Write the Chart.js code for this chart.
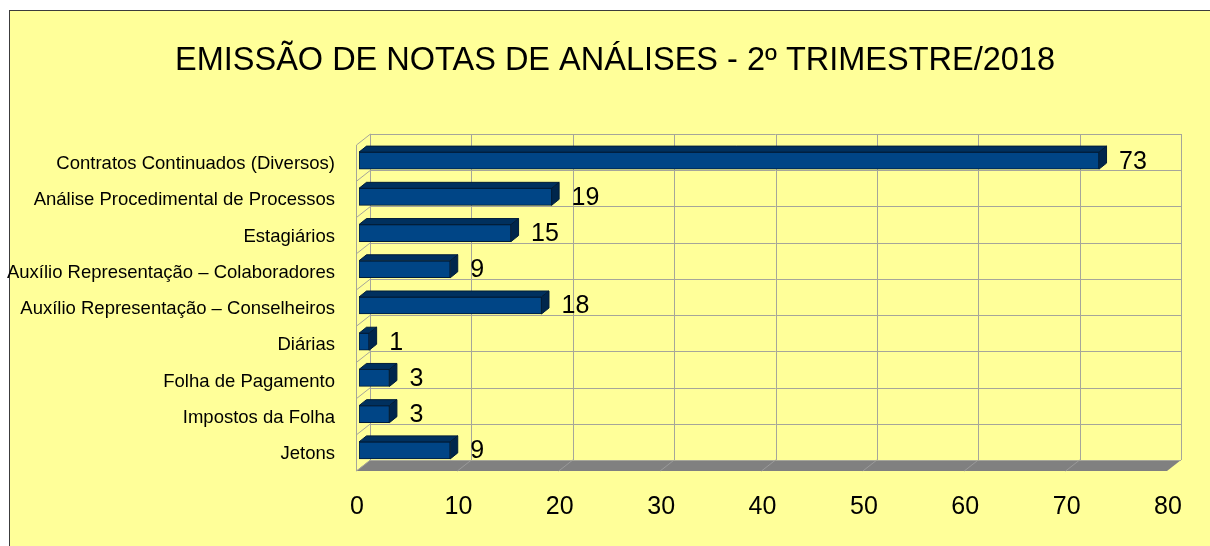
<!DOCTYPE html>
<html lang="pt-BR">
<head>
<meta charset="utf-8">
<title>Emissão de Notas de Análises - 2º Trimestre/2018</title>
<script src="https://cdn.jsdelivr.net/npm/chart.js@4.4.1/dist/chart.umd.min.js"></script>
<style>
  html, body { margin: 0; padding: 0; background: #fff; }
  #wrap { width: 1210px; height: 546px; }
</style>
</head>
<body>
<div id="wrap"><canvas id="notasChart" width="1210" height="546"></canvas></div>
<script>
// dados
const categorias = [
  "Contratos Continuados (Diversos)",
  "Análise Procedimental de Processos",
  "Estagiários",
  "Auxílio Representação – Colaboradores",
  "Auxílio Representação – Conselheiros",
  "Diárias",
  "Folha de Pagamento",
  "Impostos da Folha",
  "Jetons",
];
const notas = [73, 19, 15, 9, 18, 1, 3, 3, 9];
const xTicks = [0, 10, 20, 30, 40, 50, 60, 70, 80];
const titulo = "EMISSÃO DE NOTAS DE ANÁLISES - 2º TRIMESTRE/2018";

const FONT = "'Liberation Sans', Arial, sans-serif";
const COLORS = {
  panel: "#ffff99",
  panelBorder: "#3c3c3c",
  grid: "#a6a69a",
  floor: "#808080",
  floorLine: "#9a9a9a",
  barFront: "#004586",
  barTop: "#00305e",
  barSide: "#00264c",
  barEdge: "#001c38",
  text: "#000000",
};

// deslocamentos da perspectiva (plano das barras -> parede frontal / fundo)
const FRONT = { dx: -3, dy: 2.5 };
const BACK = { dx: 11, dy: -8.5 };
const BAR_DEPTH = { dx: 7.5, dy: -6 };

const crisp = (v) => Math.round(v) + 0.5;

const panelPlugin = {
  id: "panel",
  beforeDraw(chart) {
    const { ctx, width, height } = chart;
    ctx.save();
    ctx.fillStyle = "#fff";
    ctx.fillRect(0, 0, width, height);
    ctx.fillStyle = COLORS.panel;
    ctx.fillRect(9.5, 10.5, width + 10, height + 10);
    ctx.strokeStyle = COLORS.panelBorder;
    ctx.lineWidth = 1;
    ctx.strokeRect(9.5, 10.5, width + 10, height + 10);

    // título
    ctx.fillStyle = COLORS.text;
    ctx.font = "32.5px " + FONT;
    ctx.textAlign = "center";
    ctx.textBaseline = "middle";
    ctx.fillText(titulo, 615, 61);
    ctx.restore();
  },
};

const wallsPlugin = {
  id: "walls",
  beforeDatasetsDraw(chart) {
    const { ctx, chartArea: a, scales } = chart;
    const x = scales.x;
    const lo = x.getPixelForValue(xTicks[0]);
    const hi = x.getPixelForValue(xTicks[xTicks.length - 1]);
    const band = (a.bottom - a.top) / categorias.length;

    ctx.save();
    // piso
    ctx.fillStyle = COLORS.floor;
    ctx.beginPath();
    ctx.moveTo(lo + FRONT.dx, a.bottom + FRONT.dy);
    ctx.lineTo(hi + FRONT.dx, a.bottom + FRONT.dy);
    ctx.lineTo(hi + BACK.dx, a.bottom + BACK.dy);
    ctx.lineTo(lo + BACK.dx, a.bottom + BACK.dy);
    ctx.closePath();
    ctx.fill();

    ctx.lineWidth = 1;
    ctx.strokeStyle = COLORS.floorLine;
    xTicks.slice(1, -1).forEach((v) => {
      const p = x.getPixelForValue(v);
      ctx.beginPath();
      ctx.moveTo(p + FRONT.dx, a.bottom + FRONT.dy);
      ctx.lineTo(p + BACK.dx, a.bottom + BACK.dy);
      ctx.stroke();
    });

    ctx.strokeStyle = COLORS.grid;
    // parede do fundo: linhas verticais
    xTicks.forEach((v) => {
      const p = crisp(x.getPixelForValue(v) + BACK.dx);
      ctx.beginPath();
      ctx.moveTo(p, a.top + BACK.dy);
      ctx.lineTo(p, a.bottom + BACK.dy);
      ctx.stroke();
    });
    // parede do fundo: linhas horizontais + parede lateral
    for (let k = 0; k <= categorias.length; k++) {
      const yb = a.top + k * band;
      const yy = crisp(yb + BACK.dy);
      ctx.beginPath();
      ctx.moveTo(lo + BACK.dx, yy);
      ctx.lineTo(hi + BACK.dx, yy);
      ctx.stroke();
      ctx.beginPath();
      ctx.moveTo(crisp(lo + FRONT.dx), yb + FRONT.dy);
      ctx.lineTo(crisp(lo + BACK.dx), yb + BACK.dy);
      ctx.stroke();
    }
    const fx = crisp(lo + FRONT.dx);
    ctx.beginPath();
    ctx.moveTo(fx, a.top + FRONT.dy);
    ctx.lineTo(fx, a.bottom + FRONT.dy);
    ctx.stroke();
    ctx.restore();
  },
  afterDatasetsDraw(chart) {
    const { ctx } = chart;
    const meta = chart.getDatasetMeta(0);
    ctx.save();
    ctx.lineWidth = 1;
    ctx.strokeStyle = COLORS.barEdge;
    meta.data.forEach((bar, i) => {
      const { x, y, base, height } = bar.getProps(["x", "y", "base", "height"], true);
      const top = y - height / 2;
      const bottom = y + height / 2;
      const { dx, dy } = BAR_DEPTH;
      // face superior
      ctx.fillStyle = COLORS.barTop;
      ctx.beginPath();
      ctx.moveTo(base, top);
      ctx.lineTo(x, top);
      ctx.lineTo(x + dx, top + dy);
      ctx.lineTo(base + dx, top + dy);
      ctx.closePath();
      ctx.fill();
      ctx.stroke();
      // face lateral
      ctx.fillStyle = COLORS.barSide;
      ctx.beginPath();
      ctx.moveTo(x, top);
      ctx.lineTo(x + dx, top + dy);
      ctx.lineTo(x + dx, bottom + dy);
      ctx.lineTo(x, bottom);
      ctx.closePath();
      ctx.fill();
      ctx.stroke();

      // rótulo do valor
      ctx.fillStyle = COLORS.text;
      ctx.font = "25px " + FONT;
      ctx.textAlign = "left";
      ctx.textBaseline = "middle";
      ctx.fillText(String(notas[i]), x + 20, y + 1);
    });
    ctx.restore();
  },
};

new Chart(document.getElementById("notasChart"), {
  type: "bar",
  data: {
    labels: categorias,
    datasets: [{
      label: "Notas emitidas",
      data: notas,
      backgroundColor: COLORS.barFront,
      borderColor: COLORS.barEdge,
      borderWidth: 1,
      borderSkipped: false,
      barThickness: 17,
    }],
  },
  options: {
    indexAxis: "y",
    responsive: false,
    animation: false,
    devicePixelRatio: 1,
    layout: { padding: { left: 0, right: 40, top: 142.5, bottom: 0 } },
    plugins: {
      legend: { display: false },
      tooltip: { enabled: false },
      title: { display: false },
    },
    scales: {
      x: {
        min: xTicks[0],
        max: xTicks[xTicks.length - 1],
        afterBuildTicks: (scale) => {
          scale.ticks = xTicks.map((v) => ({ value: v }));
        },
        afterFit: (scale) => { scale.height = 77.5; },
        grid: { display: false },
        border: { display: false },
        ticks: {
          color: COLORS.text,
          padding: 16,
          labelOffset: -2,
          font: { family: FONT, size: 25 },
        },
      },
      y: {
        afterFit: (scale) => { scale.width = 359; },
        grid: { display: false },
        border: { display: false },
        ticks: {
          color: COLORS.text,
          padding: 16,
          labelOffset: 3.5,
          font: { family: FONT, size: 18.5 },
        },
      },
    },
  },
  plugins: [panelPlugin, wallsPlugin],
});
</script>
</body>
</html>
